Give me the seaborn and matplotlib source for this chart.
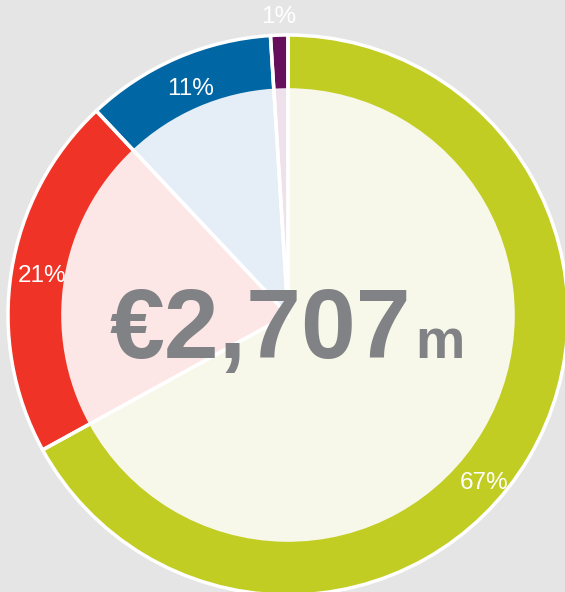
import numpy as np
import seaborn as sns
import matplotlib.pyplot as plt

# segment shares (clockwise from 12 o'clock)
segments = ["A", "B", "C", "D"]
shares = [67, 21, 11, 1]
pct_labels = ["67%", "21%", "11%", "1%"]
total_label = "€2,707"
unit_label = "m"

ring_colors = sns.color_palette(["#c2cd23", "#ef3326", "#0066a4", "#650e5c"])
fill_colors = sns.color_palette(["#f7f8e9", "#fde7e6", "#e5eef6", "#efe1ec"])

sns.set_style("white")
plt.rcParams['font.family'] = ['Liberation Sans', 'DejaVu Sans']
bg = "#e5e5e5"

fig = plt.figure(figsize=(5.65, 5.92), dpi=100, facecolor=bg)
ax = fig.add_axes([0, 0, 1, 1])
ax.set_facecolor(bg)

ring_w = 0.19
# outer coloured ring
ax.pie(shares, colors=ring_colors, startangle=90, counterclock=False, radius=1,
       wedgeprops=dict(linewidth=0, edgecolor="none"))
# pale inner fill
ax.pie(shares, colors=fill_colors, startangle=90, counterclock=False, radius=1 - ring_w,
       wedgeprops=dict(linewidth=0, edgecolor="none"))
# white separators + outer rim
ax.pie(shares, colors=["none"] * len(shares), startangle=90, counterclock=False, radius=1,
       wedgeprops=dict(linewidth=2.5, edgecolor="white", fill=False))

# percentage labels
lab_r = [0.92, 0.89, 0.88, 1.065]
lab_shift = [-10, 0, 0, 0]
cum = np.cumsum([0] + shares)
for i, lab in enumerate(pct_labels):
    mid = 90 - (cum[i] + shares[i] / 2) / sum(shares) * 360 + lab_shift[i]
    a = np.deg2rad(mid)
    ax.text(lab_r[i] * np.cos(a), lab_r[i] * np.sin(a), lab, color="white",
            fontsize=17.5, ha="center", va="center")

# centre total
ax.text(0.44, -0.152, total_label, color="#818285", fontsize=71, fontweight="bold",
        ha="right", va="baseline")
ax.text(0.455, -0.152, unit_label, color="#818285", fontsize=40, fontweight="bold",
        ha="left", va="baseline")

ax.set_aspect("auto")
ax.set_xlim(-288 / 280, 277 / 280)
ax.set_ylim(-277 / 280, 315 / 280)
ax.axis("off")

fig.savefig("out.png", dpi=100, facecolor=bg)
